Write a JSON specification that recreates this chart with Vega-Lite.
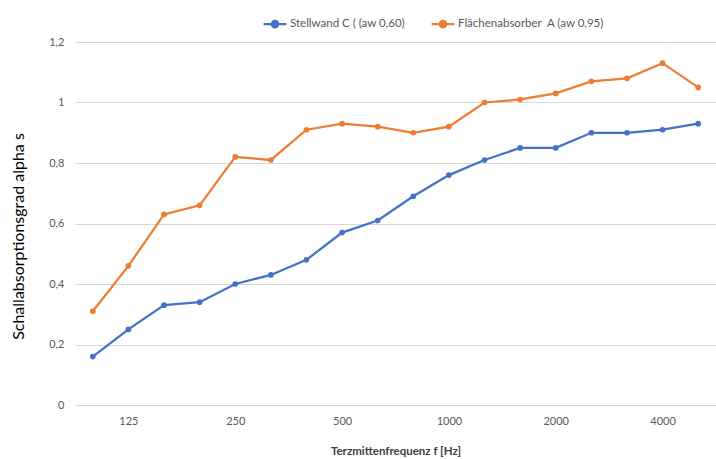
{
  "$schema": "https://vega.github.io/schema/vega-lite/v6.json",
  "autosize": "none",
  "width": 641,
  "height": 363,
  "padding": {"left": 75, "top": 42, "right": 0, "bottom": 54},
  "background": "white",
  "config": {
    "font": "Lato",
    "view": {"stroke": null},
    "axis": {"labelFont": "Lato", "titleFont": "Lato"}
  },
  "data": {
    "values": [
      {"f": 100, "s": "Stellwand C ( (aw 0,60)", "a": 0.16},
      {"f": 125, "s": "Stellwand C ( (aw 0,60)", "a": 0.25},
      {"f": 160, "s": "Stellwand C ( (aw 0,60)", "a": 0.33},
      {"f": 200, "s": "Stellwand C ( (aw 0,60)", "a": 0.34},
      {"f": 250, "s": "Stellwand C ( (aw 0,60)", "a": 0.40},
      {"f": 315, "s": "Stellwand C ( (aw 0,60)", "a": 0.43},
      {"f": 400, "s": "Stellwand C ( (aw 0,60)", "a": 0.48},
      {"f": 500, "s": "Stellwand C ( (aw 0,60)", "a": 0.57},
      {"f": 630, "s": "Stellwand C ( (aw 0,60)", "a": 0.61},
      {"f": 800, "s": "Stellwand C ( (aw 0,60)", "a": 0.69},
      {"f": 1000, "s": "Stellwand C ( (aw 0,60)", "a": 0.76},
      {"f": 1250, "s": "Stellwand C ( (aw 0,60)", "a": 0.81},
      {"f": 1600, "s": "Stellwand C ( (aw 0,60)", "a": 0.85},
      {"f": 2000, "s": "Stellwand C ( (aw 0,60)", "a": 0.85},
      {"f": 2500, "s": "Stellwand C ( (aw 0,60)", "a": 0.90},
      {"f": 3150, "s": "Stellwand C ( (aw 0,60)", "a": 0.90},
      {"f": 4000, "s": "Stellwand C ( (aw 0,60)", "a": 0.91},
      {"f": 5000, "s": "Stellwand C ( (aw 0,60)", "a": 0.93},
      {"f": 100, "s": "Flächenabsorber\u00a0 A (aw 0,95)", "a": 0.31},
      {"f": 125, "s": "Flächenabsorber\u00a0 A (aw 0,95)", "a": 0.46},
      {"f": 160, "s": "Flächenabsorber\u00a0 A (aw 0,95)", "a": 0.63},
      {"f": 200, "s": "Flächenabsorber\u00a0 A (aw 0,95)", "a": 0.66},
      {"f": 250, "s": "Flächenabsorber\u00a0 A (aw 0,95)", "a": 0.82},
      {"f": 315, "s": "Flächenabsorber\u00a0 A (aw 0,95)", "a": 0.81},
      {"f": 400, "s": "Flächenabsorber\u00a0 A (aw 0,95)", "a": 0.91},
      {"f": 500, "s": "Flächenabsorber\u00a0 A (aw 0,95)", "a": 0.93},
      {"f": 630, "s": "Flächenabsorber\u00a0 A (aw 0,95)", "a": 0.92},
      {"f": 800, "s": "Flächenabsorber\u00a0 A (aw 0,95)", "a": 0.90},
      {"f": 1000, "s": "Flächenabsorber\u00a0 A (aw 0,95)", "a": 0.92},
      {"f": 1250, "s": "Flächenabsorber\u00a0 A (aw 0,95)", "a": 1.00},
      {"f": 1600, "s": "Flächenabsorber\u00a0 A (aw 0,95)", "a": 1.01},
      {"f": 2000, "s": "Flächenabsorber\u00a0 A (aw 0,95)", "a": 1.03},
      {"f": 2500, "s": "Flächenabsorber\u00a0 A (aw 0,95)", "a": 1.07},
      {"f": 3150, "s": "Flächenabsorber\u00a0 A (aw 0,95)", "a": 1.08},
      {"f": 4000, "s": "Flächenabsorber\u00a0 A (aw 0,95)", "a": 1.13},
      {"f": 5000, "s": "Flächenabsorber\u00a0 A (aw 0,95)", "a": 1.05}
    ]
  },
  "mark": {"type": "line", "strokeWidth": 2.25, "point": {"filled": true, "size": 32, "opacity": 1}},
  "encoding": {
    "x": {
      "field": "f",
      "type": "ordinal",
      "scale": {"paddingInner": 0, "paddingOuter": 0},
      "axis": {
        "values": [125, 250, 500, 1000, 2000, 4000],
        "labelAngle": 0,
        "ticks": false,
        "domain": true,
        "domainColor": "#d9d9d9",
        "domainWidth": 1,
        "labelColor": "#595959",
        "labelFontSize": 11,
        "labelPadding": 10,
        "title": "Terzmittenfrequenz f [Hz]",
        "titleFontSize": 11.5,
        "titleFontWeight": "bold",
        "titleColor": "#404040",
        "titlePadding": 19
      }
    },
    "y": {
      "field": "a",
      "type": "quantitative",
      "scale": {"domain": [0, 1.2], "nice": false},
      "axis": {
        "values": [0, 0.2, 0.4, 0.6, 0.8, 1, 1.2],
        "labelExpr": "replace(format(datum.value, '~g'), '.', ',')",
        "ticks": false,
        "domain": false,
        "grid": true,
        "gridColor": "#d9d9d9",
        "gridWidth": 1,
        "labelColor": "#595959",
        "labelFontSize": 11,
        "labelPadding": 11,
        "title": "Schallabsorptionsgrad alpha s",
        "titleFontSize": 16,
        "titleFontWeight": "normal",
        "titleColor": "#000000",
        "titleX": -57,
        "titleY": 194,
        "titleAnchor": "middle",
        "titleAlign": "center",
        "titleBaseline": "middle",
        "titleAngle": 270
      }
    },
    "color": {
      "field": "s",
      "type": "nominal",
      "sort": ["Stellwand C ( (aw 0,60)", "Flächenabsorber\u00a0 A (aw 0,95)"],
      "scale": {"domain": ["Stellwand C ( (aw 0,60)", "Flächenabsorber\u00a0 A (aw 0,95)"], "range": ["#4472C4", "#ED7D31"]},
      "legend": {
        "title": null,
        "orient": "none",
        "direction": "horizontal",
        "legendX": 187,
        "legendY": -31,
        "labelFontSize": 11.5,
        "labelColor": "#595959",
        "labelFont": "Lato",
        "columnPadding": 22,
        "symbolType": "M-1,0L1,0M-0.28,0A0.28,0.28 0 1,0 0.28,0A0.28,0.28 0 1,0 -0.28,0Z",
        "symbolSize": 520,
        "symbolStrokeWidth": 2.25,
        "labelOffset": 2
      }
    }
  }
}
